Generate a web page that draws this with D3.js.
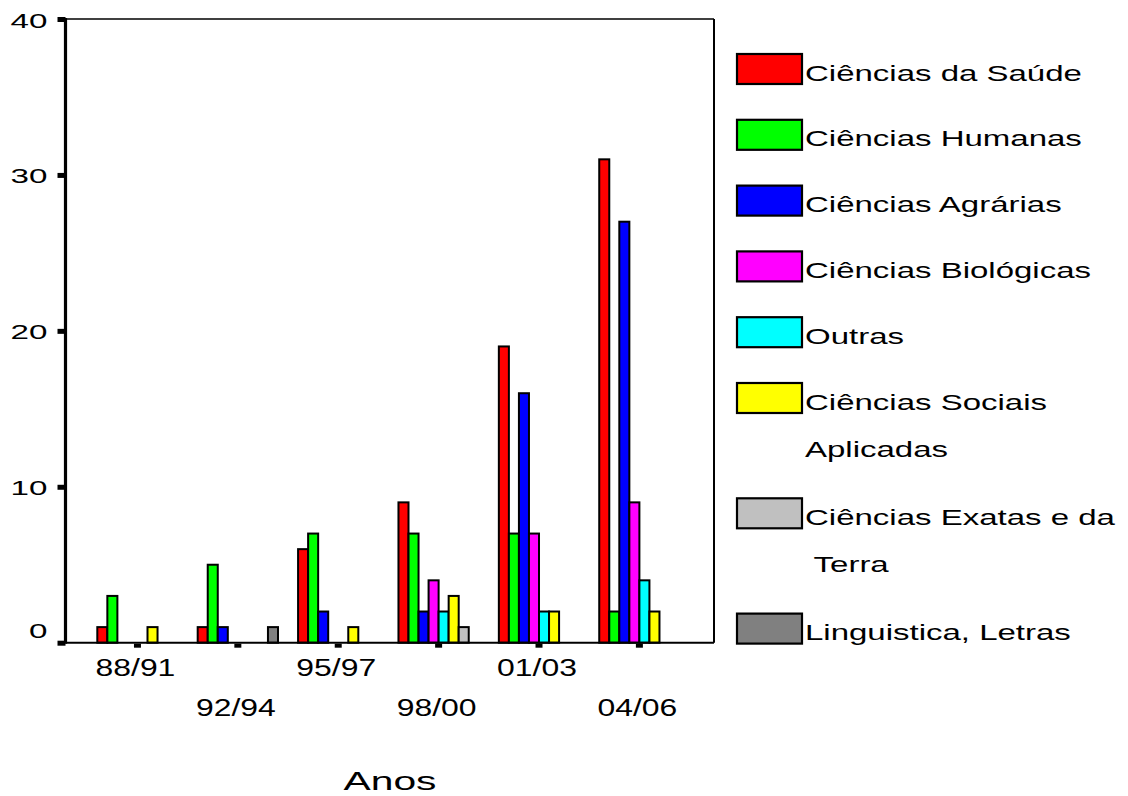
<!DOCTYPE html>
<html><head><meta charset="utf-8">
<script src="https://cdn.jsdelivr.net/npm/d3@7"></script>
<style>
body{margin:0;background:#fff}
text{font-family:"Liberation Sans",Arial,sans-serif;fill:#000}
</style>
</head><body>
<svg id="c" width="1128" height="796"></svg>
<script>
// ---- data ----
const periods = ["88/91","92/94","95/97","98/00","01/03","04/06"];
const seriesNames = ["Ciências da Saúde","Ciências Humanas","Ciências Agrárias","Ciências Biológicas","Outras","Ciências Sociais Aplicadas","Ciências Exatas e da Terra","Linguistica, Letras"];
const legendLines = [["Ciências da Saúde"],["Ciências Humanas"],["Ciências Agrárias"],["Ciências Biológicas"],["Outras"],["Ciências Sociais","Aplicadas"],["Ciências Exatas e da"," Terra"],["Linguistica, Letras"]];
const seriesColors = ["#ff0000","#00ff00","#0000ff","#ff00ff","#00ffff","#ffff00","#c0c0c0","#808080"];
const saude       = [1,1,6,9,19,31];
const humanas     = [3,5,7,7,7,2];
const agrarias    = [0,1,2,2,16,27];
const biologicas  = [0,0,0,4,7,9];
const outras      = [0,0,0,2,2,4];
const sociais     = [1,0,1,3,2,2];
const exatas      = [0,0,0,1,0,0];
const linguistica = [0,1,0,0,0,0];
const yTicks = [0,10,20,30,40];
const xTitle = "Anos";

const seriesValues = [saude,humanas,agrarias,biologicas,outras,sociais,exatas,linguistica];

// ---- layout ----
const L = 65.5, R = 714, T = 19, B = 642.7;
const svg = d3.select("#c");

const y = d3.scaleLinear().domain([0,40]).range([B, T]);
const x0 = d3.scaleBand().domain(periods).range([L, R]).paddingInner(0.2).paddingOuter(0.33).align(0.48);
const x1 = d3.scaleBand().domain(d3.range(seriesNames.length)).range([0, x0.bandwidth()]).padding(0);

// frame
svg.append("line").attr("x1",L).attr("x2",R).attr("y1",T).attr("y2",T).attr("stroke","#000").attr("stroke-width",1.5);
svg.append("line").attr("x1",R).attr("x2",R).attr("y1",T).attr("y2",B).attr("stroke","#000").attr("stroke-width",2);

// bars
const flat = [];
periods.forEach((p,pi)=>{
  seriesValues.forEach((arr,si)=>{
    if (arr[pi] > 0) flat.push({p, si, v: arr[pi]});
  });
});
svg.append("g").selectAll("rect").data(flat).join("rect")
  .attr("x", d => x0(d.p) + x1(d.si))
  .attr("width", x1.bandwidth())
  .attr("y", d => y(d.v))
  .attr("height", d => y(0) - y(d.v))
  .attr("fill", d => seriesColors[d.si])
  .attr("stroke","#000").attr("stroke-width",2);

// bottom axis line
svg.append("line").attr("x1",L).attr("x2",R).attr("y1",B).attr("y2",B).attr("stroke","#000").attr("stroke-width",2);

// y axis
const yAx = svg.append("g").attr("transform",`translate(${L},0)`)
  .call(d3.axisLeft(y).tickValues(yTicks).tickSize(8).tickFormat(d3.format("d")));
yAx.select(".domain").attr("stroke","#000").attr("stroke-width",3.2).attr("d",`M0,${T-1}V${B+1}`);
yAx.selectAll(".tick line").attr("stroke","#000").attr("stroke-width",5);
yAx.selectAll(".tick text")
  .attr("x",null).attr("dy",null)
  .attr("font-size",21)
  .attr("transform", d => `translate(-18,${d===0 ? -5 : 8}) scale(1.58,1)`);

// x axis
const xAx = svg.append("g").attr("transform",`translate(0,${B})`)
  .call(d3.axisBottom(x0).tickSize(4).tickSizeOuter(0));
xAx.select(".domain").remove();
xAx.selectAll(".tick line").attr("stroke","#000").attr("stroke-width",7).attr("y1",1).attr("y2",5);
xAx.selectAll(".tick text")
  .attr("y",null).attr("dy",null)
  .attr("font-size",24)
  .attr("transform", (d,i) => `translate(-2,${i%2===0 ? 33 : 73}) scale(1.33,1)`);

// x title
svg.append("text").attr("text-anchor","middle").attr("font-size",26)
  .attr("transform",`translate(390,790) scale(1.57,1)`).text(xTitle);

// legend
const lg = svg.append("g");
let extra = 0;
legendLines.forEach((lines,i)=>{
  const cy = 69 + 65.8*i + 49.5*extra;
  lg.append("rect").attr("x",737).attr("y",cy-15).attr("width",65).attr("height",30)
    .attr("fill",seriesColors[i]).attr("stroke","#000").attr("stroke-width",2.2);
  lines.forEach((ln,j)=>{
    lg.append("text").attr("font-size",22).attr("xml:space","preserve")
      .style("white-space","pre")
      .attr("transform",`translate(805,${cy+11.5+47.5*j}) scale(1.5,1)`).text(ln);
  });
  extra += lines.length-1;
});
</script>
</body></html>
